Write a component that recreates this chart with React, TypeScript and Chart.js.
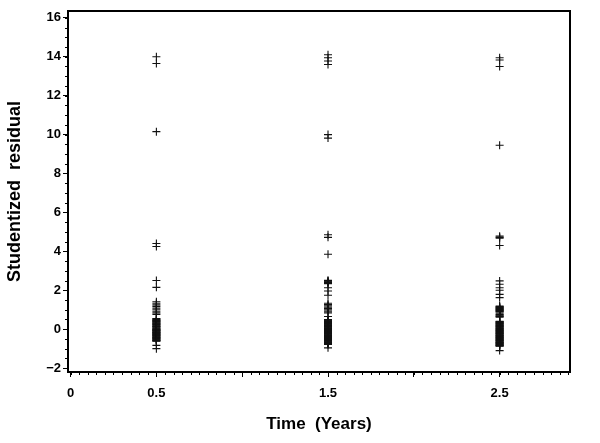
import React, { useEffect, useRef } from "react";
import { Chart, registerables } from "chart.js";

Chart.register(...registerables);

// Time points (years)
const TIMES = [0.5, 1.5, 2.5];

// Studentized residuals at each time point
const RESID_05 = [
  14.0, 13.65, 10.15,
  4.4, 4.25, 2.5, 2.15,
  1.41, 1.33, 1.25, 1.17, 1.08, 1.0, 0.92, 0.84, 0.76,
  0.55, 0.52, 0.5, 0.46, 0.44, 0.42, 0.39, 0.37, 0.33, 0.31, 0.28, 0.26, 0.24,
  0.2, 0.18, 0.15, 0.13, 0.11, 0.07, 0.05, 0.02, 0.0,
  -0.02, -0.04, -0.06, -0.08, -0.1, -0.13, -0.15, -0.17, -0.19, -0.21, -0.23,
  -0.26, -0.28, -0.3, -0.32, -0.34, -0.36, -0.39, -0.41, -0.43, -0.45, -0.47,
  -0.49, -0.52, -0.54, -0.56, -0.58, -0.6, -0.62,
  -0.83, -1.0,
];
const RESID_15 = [
  14.1, 13.95, 13.78, 13.6, 10.0, 9.82,
  4.85, 4.72, 3.85,
  2.51, 2.48, 2.46, 2.42, 2.4, 2.38, 2.34,
  2.13, 1.96, 1.74,
  1.33, 1.27, 1.2, 1.13, 1.06, 0.99, 0.92, 0.84,
  0.65,
  0.5, 0.48, 0.46, 0.43, 0.41, 0.39, 0.37, 0.34, 0.32, 0.3, 0.28, 0.25, 0.23,
  0.21, 0.19, 0.16, 0.14, 0.12, 0.1, 0.07, 0.05, 0.03, 0.01,
  -0.02, -0.04, -0.06, -0.08, -0.11, -0.13, -0.15, -0.17, -0.2, -0.22, -0.24,
  -0.26, -0.29, -0.31, -0.33, -0.35, -0.38, -0.4, -0.42, -0.44, -0.47, -0.49,
  -0.51, -0.53, -0.56, -0.58, -0.6, -0.62, -0.65, -0.67, -0.69, -0.71, -0.73,
  -0.75, -0.77, -0.79,
  -0.96,
];
const RESID_25 = [
  13.95, 13.83, 13.5, 9.45,
  4.78, 4.72, 4.68, 4.3,
  2.48, 2.31, 2.13, 2.0, 1.79, 1.62,
  1.19, 1.16, 1.14, 1.11, 1.09, 1.06, 1.04, 1.01, 0.99, 0.96, 0.94, 0.9, 0.88,
  0.82, 0.75, 0.72, 0.68, 0.65, 0.62,
  0.41, 0.39, 0.37, 0.34, 0.32, 0.3, 0.28, 0.25, 0.23, 0.21, 0.19, 0.16, 0.14,
  0.12, 0.1, 0.07, 0.05, 0.03, 0.01,
  -0.02, -0.04, -0.06, -0.08, -0.11, -0.13, -0.15, -0.17, -0.2, -0.22, -0.24,
  -0.26, -0.29, -0.31, -0.33, -0.35, -0.38, -0.4, -0.42, -0.44, -0.47, -0.49,
  -0.51, -0.53, -0.56, -0.58, -0.6, -0.62, -0.65, -0.67, -0.69, -0.71, -0.73,
  -0.75, -0.78, -0.8, -0.82, -0.84, -0.86, -0.88,
  -1.1,
];

const X_TICKS = [0, 0.5, 1, 1.5, 2, 2.5];
const X_TICK_LABELS = ["0", "0.5", "", "1.5", "", "2.5"];
const Y_TICKS = [-2, 0, 2, 4, 6, 8, 10, 12, 14, 16];
const Y_TICK_LABELS = ["\u22122", "0", "2", "4", "6", "8", "10", "12", "14", "16"];

const X_TITLE = "Time  (Years)";
const Y_TITLE = "Studentized  residual";

const FONT = "'Liberation Sans', Arial, Helvetica, sans-serif";

const boxPlugin = {
  id: "boxAndMinor",
  afterDraw(chart: any) {
    const { ctx, chartArea } = chart;
    const xs = chart.scales.x;
    const ys = chart.scales.y;
    ctx.save();
    ctx.strokeStyle = "#000";
    ctx.lineWidth = 1;
    ctx.beginPath();
    // minor x ticks
    for (let i = 0; i <= 58; i++) {
      const v = i * 0.05;
      if (v < xs.min || v > xs.max) continue;
      const px = Math.round(xs.getPixelForValue(v)) + 0.5;
      ctx.moveTo(px, chartArea.bottom);
      ctx.lineTo(px, chartArea.bottom + 3);
    }
    // minor y ticks
    for (let i = -4; i <= 32; i++) {
      const v = i * 0.5;
      if (v < ys.min || v > ys.max) continue;
      const py = Math.round(ys.getPixelForValue(v)) + 0.5;
      ctx.moveTo(chartArea.left, py);
      ctx.lineTo(chartArea.left - 3, py);
    }
    ctx.stroke();
    ctx.lineWidth = 2;
    ctx.strokeRect(
      chartArea.left,
      chartArea.top,
      chartArea.right - chartArea.left,
      chartArea.bottom - chartArea.top
    );
    ctx.restore();
  },
};

export default function App() {
  const ref = useRef<HTMLCanvasElement | null>(null);

  useEffect(() => {
    if (!ref.current) return;
    const mk = (vals: number[], t: number) => vals.map((v) => ({ x: t, y: v }));
    const points = [
      ...mk(RESID_05, TIMES[0]),
      ...mk(RESID_15, TIMES[1]),
      ...mk(RESID_25, TIMES[2]),
    ];
    const chart = new Chart(ref.current, {
      type: "scatter",
      data: {
        datasets: [
          {
            data: points,
            pointStyle: "cross",
            pointRadius: 4,
            pointBorderWidth: 1.1,
            borderColor: "#111",
            backgroundColor: "#111",
          },
        ],
      },
      plugins: [boxPlugin],
      options: {
        responsive: false,
        animation: false,
        events: [],
        layout: { padding: { top: 11, right: 30, left: 0, bottom: 0 } },
        plugins: { legend: { display: false }, tooltip: { enabled: false } },
        scales: {
          x: {
            type: "linear",
            min: -0.015,
            max: 2.91,
            afterBuildTicks: (s: any) => {
              s.ticks = X_TICKS.map((v) => ({ value: v }));
            },
            afterFit: (s: any) => {
              s.height = 71;
            },
            ticks: {
              autoSkip: false,
              maxRotation: 0,
              padding: 9,
              color: "#000",
              font: { family: FONT, size: 13, weight: "bold" },
              callback: (v: any) => {
                const i = X_TICKS.indexOf(Number(v));
                return i >= 0 ? X_TICK_LABELS[i] : "";
              },
            },
            grid: {
              display: true,
              drawOnChartArea: false,
              drawTicks: true,
              tickLength: 5,
              color: "#000",
              lineWidth: 1,
            },
            border: { display: false },
            title: {
              display: true,
              text: X_TITLE,
              color: "#000",
              font: { family: FONT, size: 17, weight: "bold" },
              padding: { top: 0, bottom: 8 },
            },
          },
          y: {
            type: "linear",
            min: -2.2,
            max: 16.35,
            afterBuildTicks: (s: any) => {
              s.ticks = Y_TICKS.map((v) => ({ value: v }));
            },
            afterFit: (s: any) => {
              s.width = 68;
            },
            ticks: {
              autoSkip: false,
              padding: 2,
              color: "#000",
              font: { family: FONT, size: 13, weight: "bold" },
              callback: (v: any) => {
                const i = Y_TICKS.indexOf(Number(v));
                return i >= 0 ? Y_TICK_LABELS[i] : "";
              },
            },
            grid: {
              display: true,
              drawOnChartArea: false,
              drawTicks: true,
              tickLength: 5,
              color: "#000",
              lineWidth: 1,
            },
            border: { display: false },
            title: {
              display: true,
              text: Y_TITLE,
              color: "#000",
              font: { family: FONT, size: 18, weight: "bold" },
              padding: { top: 4, bottom: 0 },
            },
          },
        },
      },
    } as any);
    return () => chart.destroy();
  }, []);

  return (
    <div style={{ position: "absolute", left: 0, top: 0, width: 600, height: 443, background: "#fff" }}>
      <canvas ref={ref} width={600} height={443} style={{ display: "block" }} />
    </div>
  );
}
